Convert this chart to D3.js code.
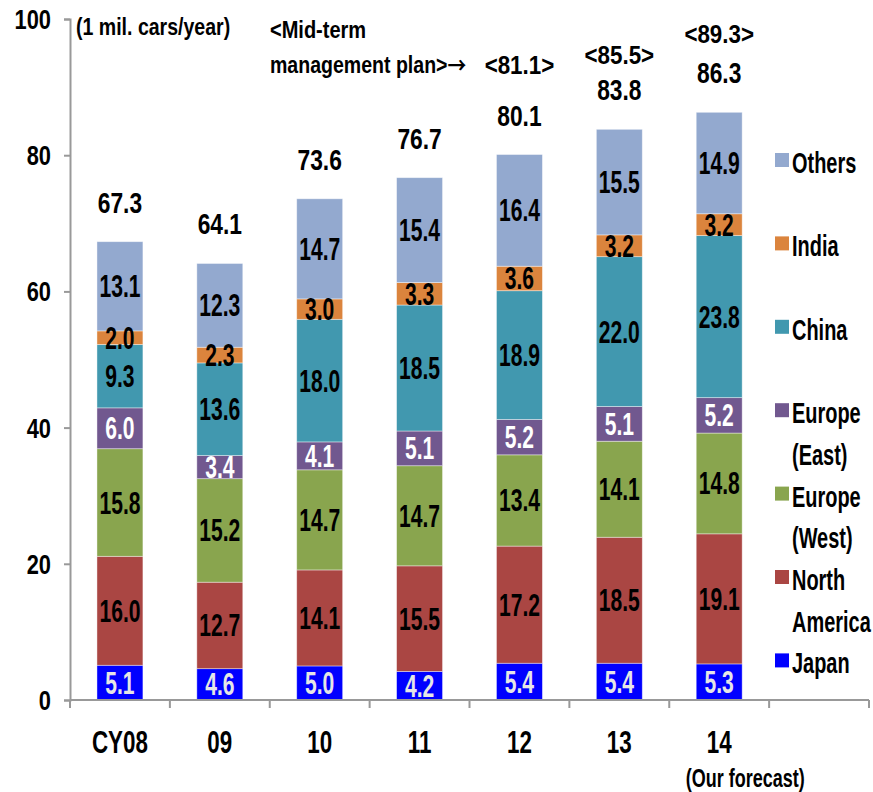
<!DOCTYPE html>
<html>
<head>
<meta charset="utf-8">
<script src="https://cdn.jsdelivr.net/npm/d3@7"></script>
<style>
  body { margin: 0; background: #fff; }
  text { font-family: "Liberation Sans", Arial, sans-serif; font-weight: bold; }
</style>
</head>
<body>
<script>
// values in 1 mil. cars/year
var categories = ["CY08", "09", "10", "11", "12", "13", "14"];
var regions = ["Japan", "North America", "Europe (West)", "Europe (East)", "China", "India", "Others"];
var japan   = [5.1, 4.6, 5.0, 4.2, 5.4, 5.4, 5.3];
var northAm = [16.0, 12.7, 14.1, 15.5, 17.2, 18.5, 19.1];
var euWest  = [15.8, 15.2, 14.7, 14.7, 13.4, 14.1, 14.8];
var euEast  = [6.0, 3.4, 4.1, 5.1, 5.2, 5.1, 5.2];
var china   = [9.3, 13.6, 18.0, 18.5, 18.9, 22.0, 23.8];
var india   = [2.0, 2.3, 3.0, 3.3, 3.6, 3.2, 3.2];
var others  = [13.1, 12.3, 14.7, 15.4, 16.4, 15.5, 14.9];
var totals  = [67.3, 64.1, 73.6, 76.7, 80.1, 83.8, 86.3];
var planTotals = [null, null, null, null, 81.1, 85.5, 89.3];
var yTicks = [0, 20, 40, 60, 80, 100];

var seriesValues = [japan, northAm, euWest, euEast, china, india, others];
var colors = ["#0000ff", "#aa4643", "#89a54e", "#71588f", "#4198af", "#db843d", "#93a9cf"];
var labelColors = ["#e6e6e6", "#000", "#000", "#fff", "#000", "#000", "#000"];
var legendLines = [["Japan"], ["North", "America"], ["Europe", "(West)"], ["Europe", "(East)"], ["China"], ["India"], ["Others"]];

var W = 873, H = 792;
var svg = d3.select("body").append("svg").attr("width", W).attr("height", H);

// build table for d3.stack
var table = categories.map(function (c, i) {
  var row = { cat: c };
  regions.forEach(function (r, k) { row[r] = seriesValues[k][i]; });
  return row;
});
var stacked = d3.stack().keys(regions)(table);

var x = d3.scaleBand().domain(categories.concat(["_"])).range([70, 869])
  .paddingInner(0.54).paddingOuter(0.27);
var y = d3.scaleLinear().domain([0, 100]).range([700, 19]);
var step = x.step();

// squeezed text, to mimic the narrow font of the original
function txt(g, px, py, s, size, anchor, color, sx) {
  return g.append("text")
    .attr("transform", "translate(" + px + "," + py + ") scale(" + (sx || 0.68) + ",1)")
    .attr("text-anchor", anchor || "middle")
    .style("font-size", size + "px")
    .style("fill", color || "#000")
    .text(s);
}

// bars
var layers = svg.append("g").selectAll("g").data(stacked).enter().append("g")
  .attr("fill", function (d, k) { return colors[k]; });
layers.selectAll("rect").data(function (d) { return d; }).enter().append("rect")
  .attr("x", function (d) { return x(d.data.cat); })
  .attr("width", x.bandwidth())
  .attr("y", function (d) { return y(d[1]); })
  .attr("height", function (d) { return y(d[0]) - y(d[1]); })
  .attr("stroke", "#fff").attr("stroke-opacity", 0.5).attr("stroke-width", 0.8);

// segment labels
var lab = svg.append("g");
stacked.forEach(function (layer, k) {
  layer.forEach(function (d, i) {
    var cy = y((d[0] + d[1]) / 2) + 11;
    txt(lab, x(d.data.cat) + x.bandwidth() / 2, cy, seriesValues[k][i].toFixed(1), 31, "middle", labelColors[k]);
  });
});

// y axis
var yAxis = svg.append("g").attr("transform", "translate(70,0)")
  .call(d3.axisLeft(y).tickValues(yTicks).tickSize(6).tickFormat(""));
yAxis.selectAll("path, line").attr("stroke", "#999").attr("stroke-width", 2);
yTicks.forEach(function (t) {
  txt(svg, 51, y(t) + 10, String(t), 28, "end", "#000", 0.78);
});

// x axis with ticks on the band edges
var xa = svg.append("g");
xa.append("line").attr("x1", 70).attr("x2", 869).attr("y1", y(0)).attr("y2", y(0))
  .attr("stroke", "#999").attr("stroke-width", 2);
categories.concat(["_"]).forEach(function (c, i) {
  var bx = x(c) + x.bandwidth() / 2 - step / 2;
  xa.append("line").attr("x1", bx).attr("x2", bx).attr("y1", y(0)).attr("y2", y(0) + 8)
    .attr("stroke", "#999").attr("stroke-width", 2);
  if (i === categories.length) {
    xa.append("line").attr("x1", bx + step).attr("x2", bx + step).attr("y1", y(0)).attr("y2", y(0) + 8)
      .attr("stroke", "#999").attr("stroke-width", 2);
  }
});
categories.forEach(function (c) {
  txt(xa, x(c) + x.bandwidth() / 2, 753, c, 32, "middle", "#000", 0.7);
});
var last = categories[categories.length - 1];
txt(xa, x(last) + x.bandwidth() / 2 + 26, 787, "(Our forecast)", 25, "middle", "#000", 0.72);

// totals and plan figures
var planDy = [0, 0, 0, 0, 52, 36, 40];
categories.forEach(function (c, i) {
  var cx = x(c) + x.bandwidth() / 2;
  var by = y(totals[i]) - 29;
  txt(svg, cx, by, totals[i].toFixed(1), 30, "middle", "#000", 0.76);
  if (planTotals[i] != null) {
    txt(svg, cx, by - planDy[i], "<" + planTotals[i].toFixed(1) + ">", 26, "middle", "#000", 0.86);
  }
});

// notes
txt(svg, 76, 35, "(1 mil. cars/year)", 23, "start", "#000", 0.85);
txt(svg, 270, 38, "<Mid-term", 23, "start", "#000", 0.87);
var plan = txt(svg, 270, 73, "management plan>", 23, "start", "#000", 0.85);
plan.append("tspan").style("font-family", "'Noto Sans CJK JP', 'DejaVu Sans', sans-serif")
  .style("font-size", "22px").text("\u2192");

// legend: every entry takes two lines, top entry is Others
var lg = svg.append("g");
var lineH = 41.7;
for (var k = regions.length - 1; k >= 0; k--) {
  var slot = regions.length - 1 - k;
  var by = 173 + slot * 2 * lineH;
  lg.append("rect").attr("x", 775).attr("y", by - 20).attr("width", 14).attr("height", 14)
    .attr("fill", colors[k]);
  legendLines[k].forEach(function (s, j) {
    txt(lg, 792, by + j * lineH, s, 30, "start", "#000", 0.665);
  });
}
</script>
</body>
</html>
